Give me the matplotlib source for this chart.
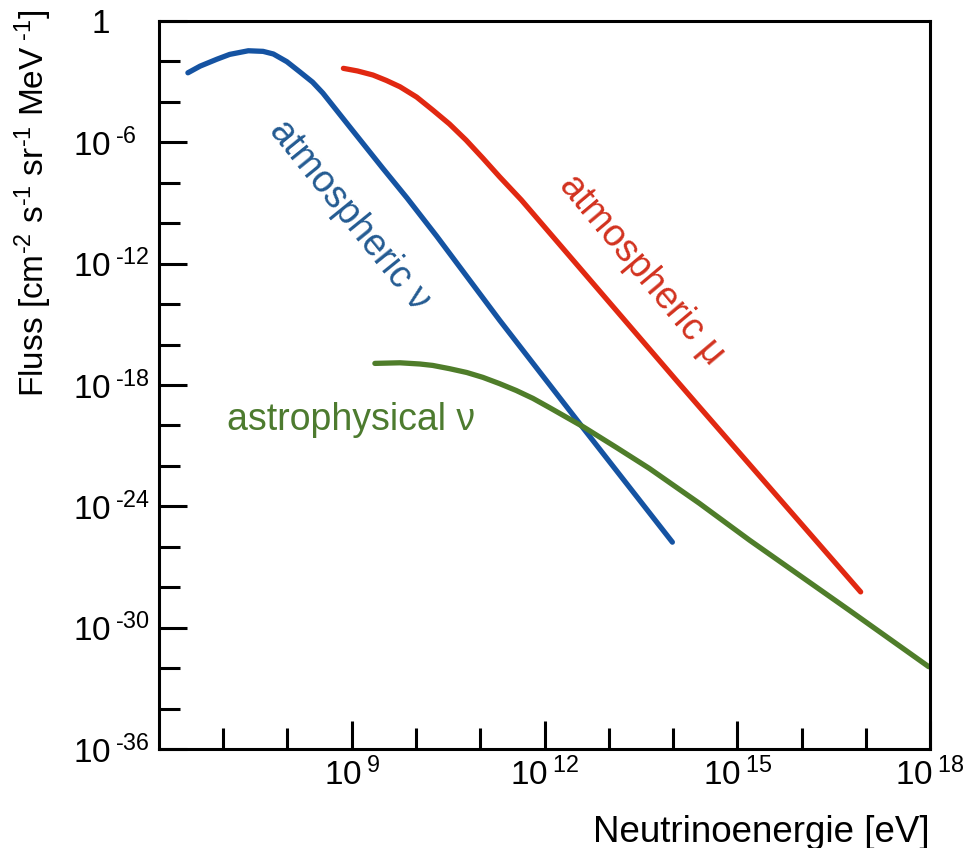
import numpy as np
import matplotlib
matplotlib.use('Agg')
import matplotlib.pyplot as plt
from matplotlib.ticker import FixedLocator, FixedFormatter

plt.rcParams['font.family'] = ['Liberation Sans', 'DejaVu Sans']
plt.rcParams['mathtext.fontset'] = 'custom'
plt.rcParams['mathtext.rm'] = 'Liberation Sans'
plt.rcParams['mathtext.it'] = 'Liberation Sans:italic'
plt.rcParams['mathtext.bf'] = 'Liberation Sans:bold'

# spectra as log10(E / eV) and log10(flux)
atm_nu_logE = [6.45, 6.64, 6.90, 7.10, 7.39, 7.62, 7.78, 7.99, 8.19, 8.39, 8.55,
               8.97, 9.48, 9.86, 10.32, 11.30, 12.59, 13.99]
atm_nu_logF = [-2.56, -2.23, -1.89, -1.65, -1.47, -1.50, -1.63, -2.01, -2.51, -3.02, -3.56,
               -5.24, -7.27, -8.75, -10.63, -14.79, -20.08, -25.77]

atm_mu_logE = [8.87, 9.09, 9.33, 9.54, 9.75, 10.01, 10.26, 10.52, 10.78, 11.04, 11.30,
               11.64, 14.05, 14.41, 16.92]
atm_mu_logF = [-2.34, -2.47, -2.67, -2.94, -3.25, -3.76, -4.40, -5.09, -5.89, -6.78, -7.70,
               -8.85, -17.76, -19.08, -28.23]

astro_nu_logE = [9.36, 9.75, 10.06, 10.26, 10.52, 10.79, 11.04, 11.30, 11.56, 11.82,
                 12.08, 12.34, 12.60, 13.12, 13.63, 14.41, 15.19, 16.74, 17.98]
astro_nu_logF = [-16.93, -16.90, -16.96, -17.03, -17.19, -17.38, -17.62, -17.93, -18.27,
                 -18.66, -19.12, -19.59, -20.06, -21.09, -22.12, -23.85, -25.67, -29.13,
                 -31.93]

x_major = [9, 12, 15, 18]
x_minor = [7, 8, 10, 11, 13, 14, 16, 17]
y_major = [-36, -30, -24, -18, -12, -6, 0]
y_minor = [-34, -32, -28, -26, -22, -20, -16, -14, -10, -8, -4, -2]

blue = '#1553a2'
red = '#e12811'
green = '#4f7d2a'


def power_label(p, lead=0.0):
    if p == 0:
        return r'$\mathregular{\hspace{%.2f}1}$' % lead
    return r'$\mathregular{10^{\hspace{0.24}\text{%d}}}$' % p


fig = plt.figure(figsize=(9.76, 8.48), dpi=100)
ax = fig.add_axes([0.1629, 0.1167, 0.79, 0.8585])

ax.plot(10.0 ** np.array(atm_nu_logE), 10.0 ** np.array(atm_nu_logF),
        color=blue, lw=3.8, solid_capstyle='round', solid_joinstyle='round')
ax.plot(10.0 ** np.array(atm_mu_logE), 10.0 ** np.array(atm_mu_logF),
        color=red, lw=3.8, solid_capstyle='round', solid_joinstyle='round')
ax.plot(10.0 ** np.array(astro_nu_logE), 10.0 ** np.array(astro_nu_logF),
        color=green, lw=3.8, solid_capstyle='round', solid_joinstyle='round')

ax.set_xscale('log')
ax.set_yscale('log')
ax.set_xlim(1e6, 1e18)
ax.set_ylim(1e-36, 1)

ax.xaxis.set_major_locator(FixedLocator([10.0 ** p for p in x_major]))
ax.xaxis.set_minor_locator(FixedLocator([10.0 ** p for p in x_minor]))
ax.xaxis.set_major_formatter(FixedFormatter([power_label(p) for p in x_major]))
ax.xaxis.set_minor_formatter(FixedFormatter([''] * len(x_minor)))
ax.yaxis.set_major_locator(FixedLocator([10.0 ** p for p in y_major]))
ax.yaxis.set_minor_locator(FixedLocator([10.0 ** p for p in y_minor]))
ax.yaxis.set_major_formatter(FixedFormatter([power_label(p, 0.67) for p in y_major]))
ax.yaxis.set_minor_formatter(FixedFormatter([''] * len(y_minor)))

ax.tick_params(which='both', direction='in', top=False, right=False,
               width=2.2, color='black', labelsize=24)
ax.tick_params(which='major', length=20)
ax.tick_params(which='minor', length=15)
ax.tick_params(axis='y', which='major', pad=62)
ax.tick_params(axis='x', which='major', pad=6)
# y labels share a common left edge, exponents hang to the right
for lab in ax.get_yticklabels():
    lab.set_horizontalalignment('left')

for sp in ax.spines.values():
    sp.set_linewidth(2.2)
    sp.set_color('black')

ax.set_xlabel('Neutrinoenergie [eV]', fontsize=26.5, loc='right')
ax.xaxis.set_label_coords(1.0, -0.09)
ax.set_ylabel(r'Fluss [cm$^{\text{-2}}$ s$^{\text{-1}}$ '
              r'sr$^{\text{-1}}$ MeV$^{\text{ -1}}$]',
              fontsize=24, loc='top')
ax.yaxis.set_label_coords(-0.136, 1.016)

ax.text(10 ** 8.97, 10 ** -9.59, 'atmospheric ν', color='#245b92', fontsize=27,
        rotation=-51, rotation_mode='anchor', ha='center', va='center')
ax.text(10 ** 13.51, 10 ** -12.31, 'atmospheric μ', color='#d2321f', fontsize=27,
        rotation=-50, rotation_mode='anchor', ha='center', va='center')
ax.text(10 ** 8.99, 10 ** -19.73, 'astrophysical ν', color='#4d7b2f', fontsize=27,
        ha='center', va='center')

fig.savefig('out.png', dpi=100)
